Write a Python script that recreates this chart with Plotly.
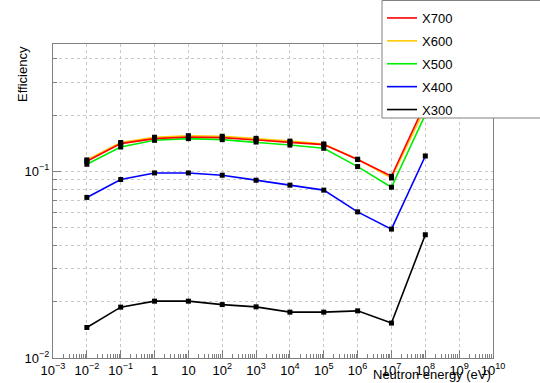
import plotly.graph_objects as go

energy = [1e-2, 1e-1, 1, 10, 1e2, 1e3, 1e4, 1e5, 1e6, 1e7, 1e8]

x700 = [0.1131, 0.1406, 0.1495, 0.1525, 0.1514, 0.1476, 0.1428, 0.1388, 0.1155, 0.0940, 0.231]
x600 = [0.1150, 0.1425, 0.1520, 0.1550, 0.1540, 0.1500, 0.1450, 0.1400, 0.1160, 0.0920, 0.218]
x500 = [0.1090, 0.1348, 0.1464, 0.1495, 0.1476, 0.1433, 0.1381, 0.1327, 0.1059, 0.0821, 0.201]
x400 = [0.0724, 0.0903, 0.0979, 0.0979, 0.0952, 0.0895, 0.0842, 0.0792, 0.0606, 0.0490, 0.1207]
x300 = [0.01457, 0.01872, 0.02015, 0.02015, 0.01932, 0.01879, 0.01760, 0.01760, 0.01788, 0.01538, 0.0457]

series_names = ["X700", "X600", "X500", "X400", "X300"]
series_values = [x700, x600, x500, x400, x300]
series_colors = ["#ff0000", "#ffc800", "#00ee00", "#0000ff", "#000000"]

x_tick_vals = [1e-3, 1e-2, 1e-1, 1, 10, 1e2, 1e3, 1e4, 1e5, 1e6, 1e7, 1e8, 1e9, 1e10]
x_tick_text = ["10<sup>−3</sup>", "10<sup>−2</sup>", "10<sup>−1</sup>", "1", "10",
               "10<sup>2</sup>", "10<sup>3</sup>", "10<sup>4</sup>", "10<sup>5</sup>",
               "10<sup>6</sup>", "10<sup>7</sup>", "10<sup>8</sup>", "10<sup>9</sup>",
               "10<sup>10</sup>"]
y_tick_vals = [0.01, 0.1]
y_tick_text = ["10<sup>−2</sup>", "10<sup>−1</sup>"]
y_minor_vals = [0.02, 0.03, 0.04, 0.05, 0.06, 0.07, 0.08, 0.09, 0.2, 0.3, 0.4]
x_minor_vals = [m * 10.0 ** k for k in range(-3, 10) for m in range(2, 10)]

W, H = 540, 383
L, R, T, B = 53, 47, 44, 25
PW, PH = W - L - R, H - T - B

def px(xp):
    return (xp - L) / PW

def py(yp):
    return (H - B - yp) / PH

fig = go.Figure()

draw_order = [1, 2, 0, 3, 4]
for i in draw_order:
    fig.add_trace(go.Scatter(
        x=energy, y=series_values[i], mode="lines", name=series_names[i],
        line=dict(color=series_colors[i], width=1.6),
        legendgroup=series_names[i], legendrank=i + 1,
    ))
for i in draw_order:
    fig.add_trace(go.Scatter(
        x=energy, y=series_values[i], mode="markers", showlegend=False,
        marker=dict(symbol="square", size=5, color="#000000"),
        hoverinfo="skip",
    ))

grid_color = "#c8c8c8"
axis_color = "#808080"
font_family = "Liberation Sans, Arial, sans-serif"

fig.update_xaxes(
    type="log", range=[-3, 10],
    tickmode="array", tickvals=x_tick_vals, ticktext=x_tick_text,
    showgrid=True, gridcolor=grid_color, griddash="dot", gridwidth=1,
    ticks="inside", ticklen=8, tickcolor=axis_color,
    showline=True, linecolor=axis_color, linewidth=1, mirror=True,
    minor=dict(tickmode="array", tickvals=x_minor_vals, ticks="inside",
               ticklen=4, tickcolor=axis_color, showgrid=False),
    tickfont=dict(size=13, color="#000000", family=font_family),
    zeroline=False,
)
fig.update_yaxes(
    type="log", range=[-2, -0.3188],
    tickmode="array", tickvals=y_tick_vals, ticktext=y_tick_text,
    showgrid=True, gridcolor=grid_color, griddash="dot", gridwidth=1,
    ticks="inside", ticklen=8, tickcolor=axis_color,
    showline=True, linecolor=axis_color, linewidth=1, mirror=True,
    minor=dict(tickmode="array", tickvals=y_minor_vals, ticks="inside",
               ticklen=4, tickcolor=axis_color, showgrid=True,
               gridcolor=grid_color, griddash="dot"),
    tickfont=dict(size=13, color="#000000", family=font_family),
    zeroline=False,
)

fig.add_annotation(text="Neutron energy (eV)", xref="paper", yref="paper",
                   x=px(493), y=py(374), xanchor="right", yanchor="middle",
                   showarrow=False, font=dict(size=13, family=font_family, color="#000000"))
fig.add_annotation(text="Efficiency", xref="paper", yref="paper",
                   x=px(22), y=py(44), xanchor="center", yanchor="top", textangle=-90,
                   showarrow=False, font=dict(size=13, family=font_family, color="#000000"))

# legend frame (white box extending past the right edge)
fig.add_shape(type="rect", xref="paper", yref="paper", layer="above",
              x0=px(382), x1=px(560), y0=py(118), y1=py(0.5),
              fillcolor="#ffffff", line=dict(color="#808080", width=1))

fig.update_layout(
    width=W, height=H,
    margin=dict(l=L, r=R, t=T, b=B, autoexpand=False),
    paper_bgcolor="#ffffff", plot_bgcolor="#ffffff",
    font=dict(family=font_family, size=13, color="#000000"),
    showlegend=True,
    hovermode=False,
    legend=dict(
        x=px(382), y=py(3), xanchor="left", yanchor="top",
        bgcolor="rgba(0,0,0,0)", borderwidth=0,
        font=dict(size=13, family=font_family, color="#000000"),
        traceorder="grouped", tracegroupgap=3,
    ),
)

fig.write_html("out.html", config={"displayModeBar": False},
               post_script="document.body.style.margin='0';")
